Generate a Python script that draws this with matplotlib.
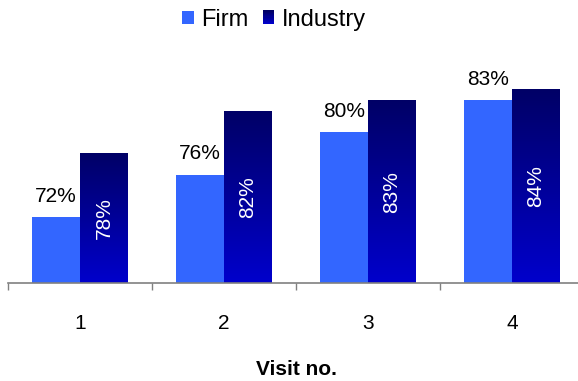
#%%############################################################################
# Firm vs industry bar chart by visit number.
###############################################################################
import numpy as np
import matplotlib.pyplot as plt
from matplotlib.colors import LinearSegmentedColormap
from matplotlib.patches import Rectangle
from matplotlib.legend_handler import HandlerBase

#%%############################################################################
# Data.
###############################################################################
visits = ['1', '2', '3', '4']
firm = [72, 76, 80, 83]
industry = [78, 82, 83, 84]
seriesNames = ['Firm', 'Industry']

yBase = 65.8
yTop = 88.7
firmColor = '#3366FF'
indTop = '#000066'
indBottom = '#0000CC'
gradCmap = LinearSegmentedColormap.from_list('ind', [indBottom, indTop])

plt.rcParams['font.family'] = ['Liberation Sans', 'DejaVu Sans']


class GradientHandler(HandlerBase):
    # Draws the legend key as stacked strips going from blue to navy.
    def create_artists(self, legend, orig_handle, xdescent, ydescent, width, height, fontsize, trans):
        n = 12
        artists = []
        for i in range(n):
            c = gradCmap(i / (n - 1))
            r = Rectangle((-xdescent, -ydescent + height * i / n), width, height / n + 0.3,
                          facecolor=c, edgecolor='none', transform=trans)
            artists.append(r)
        return artists


#%%############################################################################
# Plot.
###############################################################################
fig = plt.figure(figsize=(5.78, 3.81), dpi=100)
ax = fig.add_axes([8 / 578, 98 / 381, 576 / 578, 243 / 381])

x = np.arange(len(visits))
w = 1 / 3
firmBars = ax.bar(x - w / 2, firm, w, bottom=0, color=firmColor, label=seriesNames[0], zorder=2)
indBars = ax.bar(x + w / 2, industry, w, color='none', label=seriesNames[1], zorder=2)

grad = np.linspace(0, 1, 256).reshape(-1, 1)
for xi, v in zip(x, industry):
    ax.imshow(grad, cmap=gradCmap, origin='lower', aspect='auto', interpolation='bilinear',
              extent=[xi, xi + w, yBase, v], zorder=2)

for xi, v in zip(x, firm):
    ax.annotate(f'{v}%', (xi - w / 2, v), xytext=(0, 11), textcoords='offset points',
                ha='center', va='baseline', fontsize=15, color='black')
for xi, v in zip(x, industry):
    ax.text(xi + w / 2, (yBase + v) / 2, f'{v}%', rotation=90, ha='center', va='center',
            fontsize=15, color='white', zorder=3)

ax.set_xlim(-0.5, len(visits) - 0.5)
ax.set_ylim(yBase, yTop)
ax.set_xticks(x)
ax.set_xticklabels(visits, fontsize=15)
ax.set_xticks(np.arange(len(visits) + 1) - 0.5, minor=True)
ax.tick_params(axis='x', which='major', length=0, pad=22)
ax.tick_params(axis='x', which='minor', length=5, color='#808080', width=1)
ax.set_yticks([])
for s in ['top', 'right', 'left']:
    ax.spines[s].set_visible(False)
ax.spines['bottom'].set_color('#808080')
ax.spines['bottom'].set_linewidth(1.2)
ax.spines['bottom'].set_zorder(4)

fig.text(296 / 578, 6 / 381, 'Visit no.', ha='center', va='baseline', fontsize=15, fontweight='bold')

fig.legend(handles=[firmBars, indBars], labels=seriesNames, loc='center',
           bbox_to_anchor=(274 / 578, 1 - 20 / 381), ncol=2, frameon=False, fontsize=17,
           handlelength=0.5, handleheight=0.5, handletextpad=0.3, columnspacing=0.6,
           handler_map={indBars: GradientHandler()})

fig.savefig('out.png', dpi=100)
